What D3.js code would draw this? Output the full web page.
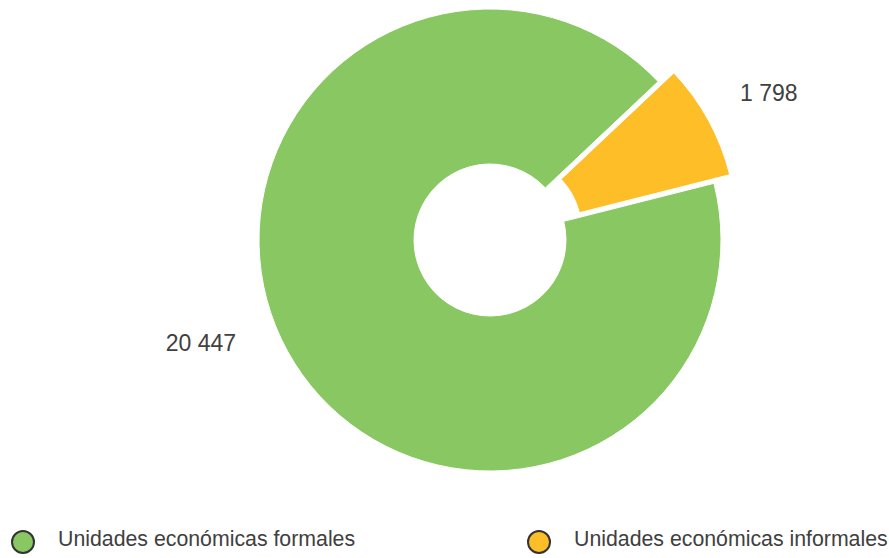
<!DOCTYPE html>
<html>
<head>
<meta charset="utf-8">
<script src="https://cdn.jsdelivr.net/npm/d3@7/dist/d3.min.js"></script>
<style>
  html, body { margin: 0; padding: 0; background: #fff; }
  svg { display: block; font-family: "Liberation Sans", Arial, sans-serif; }
</style>
</head>
<body>
<svg id="chart" width="889" height="558"></svg>
<script>
// Economic units by type
const categories = ["Unidades económicas formales", "Unidades económicas informales"];
const values = [20447, 1798];
const valueLabels = ["20 447", "1 798"];
const colors = ["#89C763", "#FEBE27"];
const sliced = [false, true];

const width = 889, height = 558;
const cx = 490, cy = 240;
const outerR = 231, innerR = 76;
const sliceOffset = 18;

const svg = d3.select("#chart");

const pie = d3.pie()
  .sort(null)
  .value(d => d)
  .startAngle(75.8 * Math.PI / 180)
  .endAngle(75.8 * Math.PI / 180 + 2 * Math.PI);

const arcs = pie(values);
const arc = d3.arc().innerRadius(innerR).outerRadius(outerR);

const g = svg.append("g").attr("transform", `translate(${cx},${cy})`);

g.selectAll("path.slice")
  .data(arcs)
  .join("path")
  .attr("class", "slice")
  .attr("d", arc)
  .attr("fill", (d, i) => colors[i])
  .attr("stroke", "#fff")
  .attr("stroke-width", 1)
  .attr("transform", (d, i) => {
    if (!sliced[i]) return null;
    const a = (d.startAngle + d.endAngle) / 2;
    return `translate(${Math.sin(a) * sliceOffset},${-Math.cos(a) * sliceOffset})`;
  });

// Value labels placed outside the ring
const labelSpec = [
  { angleShift: 6.7, r: 274, anchor: "end" },
  { angleShift: 1, r: 315, anchor: "middle" }
];
const labelAngle = (d, i) => (d.startAngle + d.endAngle) / 2 + labelSpec[i].angleShift * Math.PI / 180;
g.selectAll("text.value")
  .data(arcs)
  .join("text")
  .attr("class", "value")
  .attr("text-anchor", (d, i) => labelSpec[i].anchor)
  .attr("x", (d, i) => Math.sin(labelAngle(d, i)) * labelSpec[i].r)
  .attr("y", (d, i) => -Math.cos(labelAngle(d, i)) * labelSpec[i].r)
  .attr("dy", "0.35em")
  .attr("font-size", 23)
  .attr("fill", "#404040")
  .text((d, i) => valueLabels[i]);

// Legend
const legendX = d3.scalePoint().domain(categories).range([23, 539]);
const legend = svg.append("g");
const items = legend.selectAll("g")
  .data(categories)
  .join("g")
  .attr("transform", d => `translate(${legendX(d)},542)`);
items.append("circle")
  .attr("r", 11)
  .attr("fill", (d, i) => colors[i])
  .attr("stroke", "#333")
  .attr("stroke-width", 2);
items.append("text")
  .attr("x", 35)
  .attr("y", 4)
  .attr("font-size", 21.3)
  .attr("fill", "#404040")
  .text(d => d);
</script>
</body>
</html>
